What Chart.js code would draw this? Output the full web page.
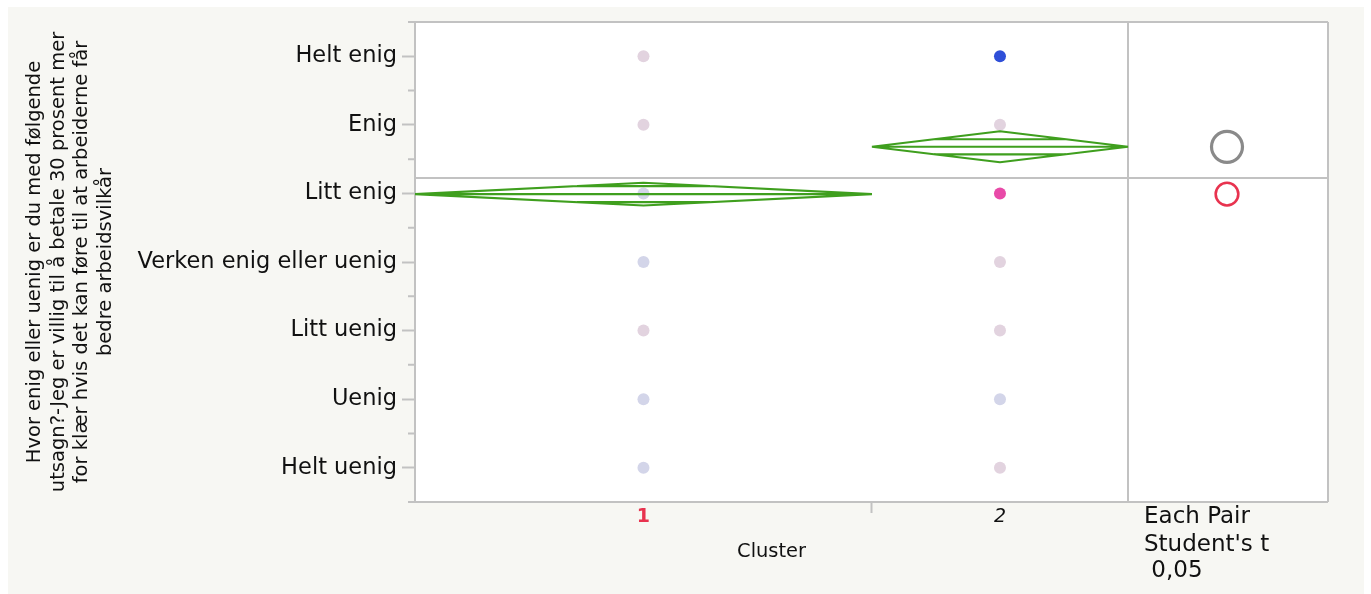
<!DOCTYPE html>
<html>
<head>
<meta charset="utf-8">
<script src="https://cdn.jsdelivr.net/npm/chart.js@4.4.1/dist/chart.umd.min.js"></script>
<style>
  html, body { margin: 0; background: #fff; }
  #wrap { position: absolute; left: 8px; top: 7px; width: 1356px; height: 587px; background: #f7f7f3; }
  canvas { display: block; }
</style>
</head>
<body>
<div id="wrap"><canvas id="oneway" width="1356" height="587"></canvas></div>
<script>
// response levels, 1 = Helt uenig ... 7 = Helt enig
const levels = ["Helt uenig", "Uenig", "Litt uenig", "Verken enig eller uenig", "Litt enig", "Enig", "Helt enig"];
const clusters = ["1", "2"];
const clusterN = [116, 65];           // diamond width follows group size
const clusterMeans = [4.99, 5.68];
const clusterCI = [0.165, 0.226];     // half width of 95% interval
const overlapMarks = [0.117, 0.11];
const grandMean = 5.225;
const cluster1Levels = [7, 6, 5, 4, 3, 2, 1];
const cluster2Levels = [7, 6, 5, 4, 3, 2, 1];

const PINK = "#e2d3df";
const LAV = "#d3d5e9";
const cluster1Colors = [PINK, PINK, LAV, LAV, PINK, LAV, LAV];
const cluster2Colors = ["#2f4fd8", PINK, "#e84aa8", PINK, PINK, LAV, PINK];

const FONT = "'DejaVu Sans', sans-serif";
const GRAY = "#c2c2c2";
const TEXT = "#111111";
const PANEL_W = 200;

const starts = clusterN.map((n, i) => clusterN.slice(0, i).reduce((a, b) => a + b, 0));
const centers = starts.map((s, i) => s + clusterN[i] / 2);
const totalN = clusterN.reduce((a, b) => a + b, 0);

const points = [];
const pointColors = [];
cluster1Levels.forEach((lv, i) => { points.push({ x: centers[0], y: lv }); pointColors.push(cluster1Colors[i]); });
cluster2Levels.forEach((lv, i) => { points.push({ x: centers[1], y: lv }); pointColors.push(cluster2Colors[i]); });

const onewayPlugin = {
  id: "oneway",
  beforeDraw(chart) {
    const { ctx, chartArea: a } = chart;
    ctx.save();
    ctx.fillStyle = "#fff";
    ctx.fillRect(a.left, a.top, a.right + PANEL_W - a.left, a.bottom - a.top);
    ctx.restore();
  },
  beforeDatasetsDraw(chart) {
    const { ctx, chartArea: a, scales: { y } } = chart;
    const pr = a.right + PANEL_W;
    ctx.save();
    ctx.strokeStyle = GRAY;
    ctx.lineWidth = 2;
    ctx.beginPath();
    ctx.moveTo(a.left, a.top); ctx.lineTo(pr, a.top);
    ctx.moveTo(pr, a.top); ctx.lineTo(pr, a.bottom);
    ctx.moveTo(a.right, a.bottom); ctx.lineTo(pr, a.bottom);
    ctx.moveTo(a.right, a.top); ctx.lineTo(a.right, a.bottom);
    const gy = y.getPixelForValue(grandMean);
    ctx.moveTo(a.left, gy); ctx.lineTo(pr, gy);
    // minor ticks
    for (let v = y.min; v <= y.max; v += 1) {
      const py = y.getPixelForValue(v);
      ctx.moveTo(a.left - 7, py); ctx.lineTo(a.left, py);
    }
    ctx.stroke();
    ctx.restore();
  },
  afterDatasetsDraw(chart) {
    const { ctx, chartArea: a, scales: { x, y } } = chart;
    ctx.save();
    ctx.strokeStyle = "#3f9f1e";
    ctx.lineWidth = 2.1;
    ctx.lineJoin = "bevel";
    clusterN.forEach((n, i) => {
      const x0 = x.getPixelForValue(starts[i]);
      const x1 = x.getPixelForValue(starts[i] + n);
      const xc = (x0 + x1) / 2;
      const m = clusterMeans[i];
      const ym = y.getPixelForValue(m);
      ctx.beginPath();
      ctx.moveTo(x0, ym);
      ctx.lineTo(xc, y.getPixelForValue(m + clusterCI[i]));
      ctx.lineTo(x1, ym);
      ctx.lineTo(xc, y.getPixelForValue(m - clusterCI[i]));
      ctx.closePath();
      ctx.moveTo(x0, ym); ctx.lineTo(x1, ym);
      const w = (x1 - x0) / 2 * (1 - overlapMarks[i] / clusterCI[i]);
      [1, -1].forEach((s) => {
        const yy = y.getPixelForValue(m + s * overlapMarks[i]);
        ctx.moveTo(xc - w, yy); ctx.lineTo(xc + w, yy);
      });
      ctx.stroke();
    });
    // comparison circles
    const cx = a.right + PANEL_W / 2 - 1;
    clusterMeans.forEach((m, i) => {
      const cy = y.getPixelForValue(m);
      const r = Math.abs(y.getPixelForValue(m + clusterCI[i]) - cy);
      ctx.beginPath();
      ctx.strokeStyle = i === 0 ? "#e8334f" : "#8a8a8a";
      ctx.lineWidth = i === 0 ? 2.6 : 3.2;
      ctx.arc(cx, cy, r, 0, Math.PI * 2);
      ctx.stroke();
    });
    ctx.restore();
  },
  afterDraw(chart) {
    const { ctx, chartArea: a } = chart;
    ctx.save();
    ctx.fillStyle = TEXT;
    ctx.font = "23px " + FONT;
    ctx.textBaseline = "alphabetic";
    ctx.fillText("Each Pair", a.right + 16, a.bottom + 21);
    ctx.fillText("Student's t", a.right + 16, a.bottom + 49);
    ctx.fillText(" 0,05", a.right + 16, a.bottom + 75);
    ctx.restore();
  }
};

new Chart(document.getElementById("oneway"), {
  type: "scatter",
  data: {
    datasets: [{
      data: points,
      pointRadius: 6,
      pointHoverRadius: 6,
      pointBorderWidth: 0,
      pointBackgroundColor: pointColors,
      pointBorderColor: pointColors
    }]
  },
  options: {
    responsive: false,
    animation: false,
    devicePixelRatio: 1,
    layout: { padding: { left: 0, top: 15, right: 236, bottom: 0 } },
    plugins: { legend: { display: false }, tooltip: { enabled: false } },
    scales: {
      x: {
        type: "linear",
        min: 0,
        max: totalN,
        afterBuildTicks: (s) => { s.ticks = [0, centers[0], starts[1], centers[1], totalN].map((v) => ({ value: v })); },
        afterFit: (s) => { s.height = 92; s.paddingLeft = 0; s.paddingRight = 0; },
        border: { display: true, color: GRAY, width: 2 },
        grid: {
          display: true,
          drawOnChartArea: false,
          drawTicks: true,
          tickLength: 11,
          tickWidth: 2,
          tickColor: (c) => (c.tick && c.tick.value === starts[1] ? GRAY : "rgba(0,0,0,0)")
        },
        ticks: {
          autoSkip: false,
          maxRotation: 0,
          padding: -7,
          callback: (v) => { const i = centers.indexOf(v); return i >= 0 ? clusters[i] : ""; },
          color: (c) => (c.tick && c.tick.value === centers[0] ? "#e8334f" : TEXT),
          font: (c) => (c.tick && c.tick.value === centers[0]
            ? { family: FONT, size: 19, weight: "bold" }
            : { family: FONT, size: 19, style: "italic" })
        },
        title: {
          display: true,
          text: "Cluster",
          color: TEXT,
          font: { family: FONT, size: 19.4 },
          padding: { top: 0, bottom: 30 }
        }
      },
      y: {
        type: "linear",
        min: 0.5,
        max: 7.5,
        afterBuildTicks: (s) => {
          const t = [];
          for (let v = 0.5; v <= 7.5; v += 0.5) t.push({ value: v });
          s.ticks = t;
        },
        afterFit: (s) => { s.width = 407; s.paddingTop = 0; s.paddingBottom = 0; },
        border: { display: true, color: GRAY, width: 2 },
        grid: {
          display: true,
          drawOnChartArea: false,
          drawTicks: true,
          tickLength: 13,
          tickWidth: 2,
          tickColor: (c) => (c.tick && Number.isInteger(c.tick.value) ? GRAY : "rgba(0,0,0,0)")
        },
        ticks: {
          autoSkip: false,
          padding: 5,
          color: TEXT,
          font: { family: FONT, size: 22.5 },
          callback: (v) => (Number.isInteger(v) ? levels[v - 1] : "")
        },
        title: {
          display: true,
          text: [
            "Hvor enig eller uenig er du med følgende",
            "utsagn?-Jeg er villig til å betale 30 prosent mer",
            "for klær hvis det kan føre til at arbeiderne får",
            "bedre arbeidsvilkår"
          ],
          color: TEXT,
          font: { family: FONT, size: 19.5, lineHeight: "23.5px" },
          padding: { top: 15.25, bottom: 0 }
        }
      }
    }
  },
  plugins: [onewayPlugin]
});
</script>
</body>
</html>
